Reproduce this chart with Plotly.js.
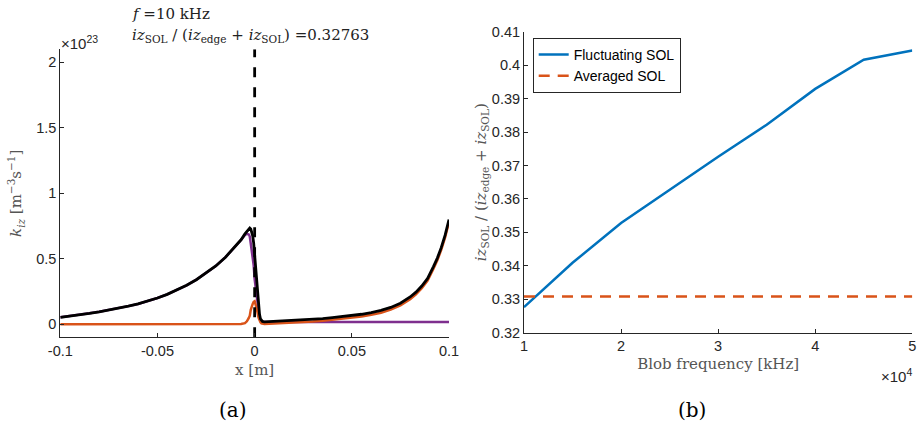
<!DOCTYPE html>
<html>
<head>
<meta charset="utf-8">
<script src="https://cdn.plot.ly/plotly-3.0.1.min.js"></script>
<style>html,body{margin:0;padding:0;background:#fff;}#chart{width:917px;height:427px;}</style>
</head>
<body>
<div id="chart"></div>
<script>
// ---- Panel (a): ionisation source profiles (units of 1e23 m^-3 s^-1) ----
const xPos = [-0.1,-0.095,-0.09,-0.085,-0.08,-0.075,-0.07,-0.065,-0.06,-0.055,-0.05,-0.045,-0.04,-0.035,-0.03,-0.025,-0.02,-0.015,-0.01,
  -0.007,-0.005,-0.004,-0.003,-0.0025,-0.002,-0.0015,-0.001,-0.0005,
  0,0.0005,0.001,0.0015,0.002,0.0025,0.003,0.0035,0.004,
  0.005,
  0.01,0.015,0.02,0.025,0.03,0.035,0.04,0.045,0.05,0.055,0.06,0.065,0.07,0.075,0.08,
  0.083,0.086,0.089,0.092,0.094,0.096,0.098,0.1];
const kizTotal = [0.053,0.062,0.072,0.083,0.095,0.108,0.122,0.138,0.155,0.176,0.200,0.228,0.260,0.297,0.340,0.390,0.445,0.512,0.590,
  0.645,0.690,0.712,0.730,0.735,0.728,0.708,0.675,0.620,
  0.520,0.440,0.360,0.250,0.140,0.075,0.040,0.027,0.021,
  0.018,
  0.022,0.025,0.028,0.032,0.037,0.043,0.050,0.058,0.066,0.076,0.089,0.105,0.128,0.160,0.208,
  0.245,0.292,0.350,0.440,0.505,0.585,0.680,0.800];
const kizEdge = [0.053,0.062,0.072,0.083,0.095,0.108,0.122,0.138,0.155,0.176,0.200,0.228,0.260,0.297,0.340,0.390,0.445,0.512,0.590,
  0.643,0.682,0.690,0.685,0.670,0.615,0.560,0.520,0.450,
  0.345,0.290,0.235,0.160,0.090,0.045,0.025,0.020,0.018,
  0.017,
  0.017,0.017,0.017,0.017,0.017,0.017,0.017,0.017,0.017,0.017,0.017,0.017,0.017,0.017,0.017,
  0.017,0.017,0.017,0.017,0.017,0.017,0.017,0.017];
const kizSOL = [0,0,0,0,0,0,0,0,0,0,0,0,0,0,0,0,0,0,0,
  0.002,0.008,0.022,0.048,0.065,0.110,0.145,0.155,0.170,
  0.175,0.150,0.125,0.090,0.050,0.030,0.015,0.007,0.003,
  0.001,
  0.005,0.008,0.011,0.015,0.020,0.026,0.033,0.041,0.049,0.059,0.072,0.088,0.111,0.143,0.191,
  0.228,0.275,0.333,0.423,0.488,0.568,0.663,0.783];
const sepX = [0, 0];
const sepY = [-0.1, 2.1];
const aYTicks = [0, 0.5, 1, 1.5, 2];
const aXTicks = [-0.1, -0.05, 0, 0.05, 0.1];
const aXTickText = ['-0.1', '-0.05', '0', '0.05', '0.1'];

// ---- Panel (b): SOL ionisation fraction vs blob frequency ----
const seriesNames = ['Fluctuating SOL', 'Averaged SOL'];
const blobFreq = [10000, 15000, 20000, 25000, 30000, 35000, 40000, 45000, 50000];
const fracFluct = [0.32763, 0.3409, 0.3528, 0.3627, 0.3726, 0.3822, 0.3929, 0.4016, 0.4044];
const fracAvgX = [10000, 50000];
const fracAvg = [0.3308, 0.3308];
const bXTicks = [10000, 20000, 30000, 40000, 50000];
const bXTickText = ['1', '2', '3', '4', '5'];
const bYTicks = [0.32, 0.33, 0.34, 0.35, 0.36, 0.37, 0.38, 0.39, 0.40, 0.41];
const bYTickText = ['0.32', '0.33', '0.34', '0.35', '0.36', '0.37', '0.38', '0.39', '0.4', '0.41'];

const axCol = '#262626';
const sans = 'Liberation Sans, Arial, sans-serif';
const tickFont = {family: sans, size: 14.5, color: axCol};
const serif = 'DejaVu Serif, Liberation Serif, serif';
const labCol = '#555';
const blue = '#0072BD', orange = '#D95319', purple = '#7E2F8E';
const W = 917, H = 427;
const px = v => v / W, py = v => (H - v) / H;

const traces = [
  {x: xPos, y: kizEdge, xaxis: 'x', yaxis: 'y', mode: 'lines', line: {color: purple, width: 2.5}, showlegend: false},
  {x: xPos, y: kizSOL, xaxis: 'x', yaxis: 'y', mode: 'lines', line: {color: orange, width: 2.5}, showlegend: false},
  {x: xPos, y: kizTotal, xaxis: 'x', yaxis: 'y', mode: 'lines', line: {color: '#000000', width: 2.8}, showlegend: false},
  {x: sepX, y: sepY, xaxis: 'x', yaxis: 'y', mode: 'lines', line: {color: '#000000', width: 2.8, dash: '10px,10px'}, showlegend: false},
  {x: blobFreq, y: fracFluct, xaxis: 'x2', yaxis: 'y2', mode: 'lines', name: seriesNames[0], line: {color: blue, width: 2.5}},
  {x: fracAvgX, y: fracAvg, xaxis: 'x2', yaxis: 'y2', mode: 'lines', name: seriesNames[1], line: {color: orange, width: 2.5, dash: '11px,8px'}}
];

const layout = {
  width: W, height: H,
  margin: {l: 0, r: 0, t: 0, b: 0},
  paper_bgcolor: '#fff', plot_bgcolor: '#fff',
  showlegend: true,
  legend: {
    x: px(532.7), y: py(38), xanchor: 'left', yanchor: 'top',
    bgcolor: '#fff', bordercolor: axCol, borderwidth: 1,
    font: {family: sans, size: 14, color: '#000'},
    tracegroupgap: 0, itemwidth: 30
  },
  xaxis: {
    domain: [60.3/W, 449/W], range: [-0.1, 0.1],
    tickvals: aXTicks, ticktext: aXTickText, ticks: 'inside', ticklen: 4, tickcolor: axCol,
    showline: true, linecolor: axCol, linewidth: 1, showgrid: false, zeroline: false,
    tickfont: tickFont, anchor: 'y',
    title: {text: 'x [m]', font: {family: serif, size: 15, color: labCol}, standoff: 6}
  },
  yaxis: {
    domain: [(H-337.3)/H, (H-49.3)/H], range: [-0.1, 2.1],
    tickvals: aYTicks, ticks: 'inside', ticklen: 4, tickcolor: axCol,
    showline: true, linecolor: axCol, linewidth: 1, showgrid: false, zeroline: false,
    tickfont: tickFont, anchor: 'x',
    title: {text: '<i>k</i><sub><i>iz</i></sub> [m<sup>−3</sup>s<sup>−1</sup>]', font: {family: serif, size: 15, color: labCol}, standoff: 10}
  },
  xaxis2: {
    domain: [524/W, 912.3/W], range: [10000, 50000],
    tickvals: bXTicks, ticktext: bXTickText, ticks: 'inside', ticklen: 4, tickcolor: axCol,
    showline: true, linecolor: axCol, linewidth: 1, showgrid: false, zeroline: false,
    tickfont: tickFont, anchor: 'y2',
    title: {text: 'Blob frequency [kHz]', font: {family: serif, size: 15, color: labCol}, standoff: 5}
  },
  yaxis2: {
    domain: [(H-332.7)/H, (H-31.7)/H], range: [0.32, 0.41],
    tickvals: bYTicks, ticktext: bYTickText, ticks: 'inside', ticklen: 4, tickcolor: axCol,
    showline: true, linecolor: axCol, linewidth: 1, showgrid: false, zeroline: false,
    tickfont: tickFont, anchor: 'x2',
    title: {text: '<i>iz</i><sub>SOL</sub> / (<i>iz</i><sub>edge</sub> + <i>iz</i><sub>SOL</sub>)', font: {family: serif, size: 15, color: labCol}, standoff: 1}
  },
  annotations: [
    {xref: 'paper', yref: 'paper', x: px(130), y: py(14), xanchor: 'left', yanchor: 'middle', showarrow: false,
     text: '<i>f</i> =10 kHz', font: {family: serif, size: 15, color: '#222'}},
    {xref: 'paper', yref: 'paper', x: px(130), y: py(36), xanchor: 'left', yanchor: 'middle', showarrow: false,
     text: '<i>iz</i><sub>SOL</sub> / (<i>iz</i><sub>edge</sub> + <i>iz</i><sub>SOL</sub>) =0.32763', font: {family: serif, size: 15, color: '#222'}},
    {xref: 'paper', yref: 'paper', x: px(59), y: py(42), xanchor: 'left', yanchor: 'middle', showarrow: false,
     text: '×10<sup>23</sup>', font: {family: sans, size: 15, color: axCol}},
    {xref: 'paper', yref: 'paper', x: px(914), y: py(375), xanchor: 'right', yanchor: 'middle', showarrow: false,
     text: '×10<sup>4</sup>', font: {family: sans, size: 15, color: axCol}},
    {xref: 'paper', yref: 'paper', x: px(233), y: py(410), xanchor: 'center', yanchor: 'middle', showarrow: false,
     text: '(a)', font: {family: serif, size: 20, color: '#000'}},
    {xref: 'paper', yref: 'paper', x: px(692), y: py(410), xanchor: 'center', yanchor: 'middle', showarrow: false,
     text: '(b)', font: {family: serif, size: 20, color: '#000'}}
  ]
};

Plotly.newPlot('chart', traces, layout, {staticPlot: true, displayModeBar: false});
</script>
</body>
</html>
